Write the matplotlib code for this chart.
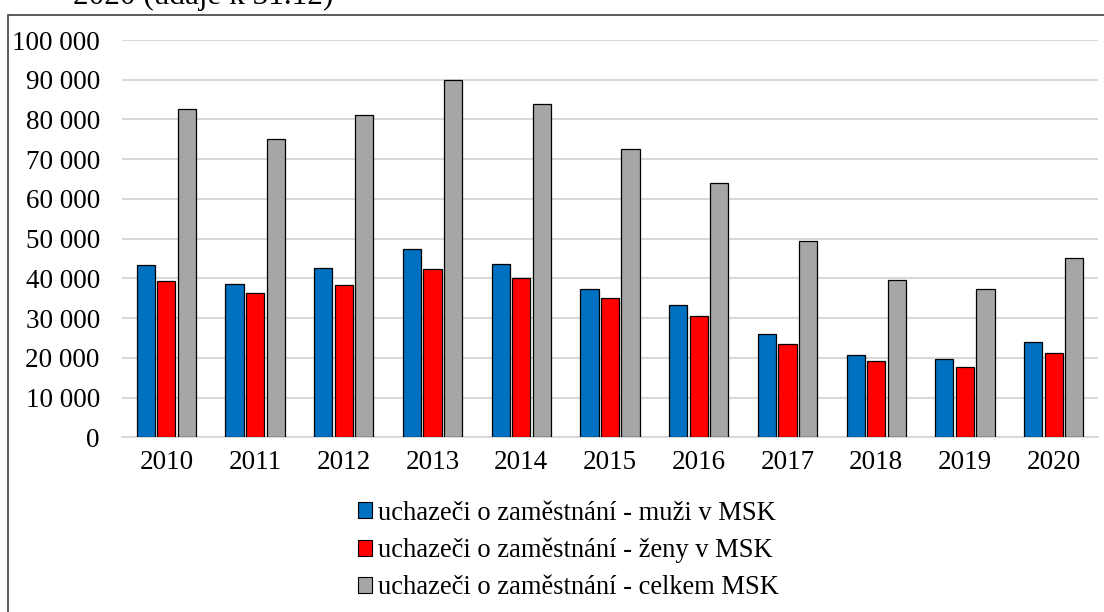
import matplotlib
matplotlib.use("Agg")
import matplotlib.pyplot as plt
import numpy as np
from matplotlib.patches import Rectangle
from matplotlib.ticker import FuncFormatter

years = ["2010", "2011", "2012", "2013", "2014", "2015", "2016", "2017", "2018", "2019", "2020"]
muzi = [43400, 38500, 42600, 47500, 43600, 37400, 33300, 26100, 20700, 19600, 23900]
zeny = [39300, 36400, 38300, 42300, 40200, 35100, 30600, 23400, 19100, 17700, 21200]
celkem = [82700, 75000, 81000, 90000, 83900, 72500, 64000, 49400, 39700, 37300, 45100]
labels = ["uchazeči o zaměstnání - muži v MSK",
          "uchazeči o zaměstnání - ženy v MSK",
          "uchazeči o zaměstnání - celkem MSK"]
colors = ["#0070C0", "#FF0000", "#A6A6A6"]

plt.rcParams['font.family'] = ['Liberation Serif', 'DejaVu Serif']
FS = 19.5

W, H = 1104, 612
fig = plt.figure(figsize=(W/100, H/100), dpi=100)

# outer frame
fig.patches.append(Rectangle((8/W, -0.1), 1.2, 1 - 15/H + 0.1, transform=fig.transFigure,
                             fill=False, edgecolor="#404040", linewidth=1.2))
fig.text(73/W, 1 - 4/H, "2020 (údaje k 31.12)", fontsize=22.5, va='baseline', ha='left')

left, right, bottom, top = 122, 1098, 437.3, 40
ax = fig.add_axes([left/W, 1 - bottom/H, (right-left)/W, (bottom-top)/H])

x = np.arange(len(years))
bw = 0.205
off = 0.232
for i, (vals, c, lab) in enumerate(zip([muzi, zeny, celkem], colors, labels)):
    ax.bar(x + (i-1)*off, vals, width=bw, color=c, edgecolor="black", linewidth=0.9,
           label=lab, zorder=3)

ax.set_xlim(-0.5, len(years) - 0.5)
ax.set_ylim(0, 100000)
ax.set_yticks(np.arange(0, 100001, 10000))
ax.yaxis.set_major_formatter(FuncFormatter(lambda v, p: f"{int(v):,}".replace(",", " ")))
ax.set_xticks(x)
ax.set_xticklabels(years)
ax.tick_params(axis='both', length=0, labelsize=FS, colors="black")
ax.tick_params(axis='y', pad=16)
ax.tick_params(axis='x', pad=9)
ax.grid(axis='y', color="#D9D9D9", linewidth=1.5, zorder=0)
for s in ["top", "right", "left"]:
    ax.spines[s].set_visible(False)
ax.spines["bottom"].set_color("#D9D9D9")
ax.spines["bottom"].set_linewidth(1.5)

leg = fig.legend(loc='upper left', bbox_to_anchor=(347/W, 1 - 490/H), frameon=False,
                 fontsize=19.1, handlelength=0.55, handleheight=0.55, handletextpad=0.2,
                 labelspacing=0.45, borderaxespad=0)
for h in leg.legend_handles:
    h.set_linewidth(0.8)

fig.savefig("out.png", dpi=100)
